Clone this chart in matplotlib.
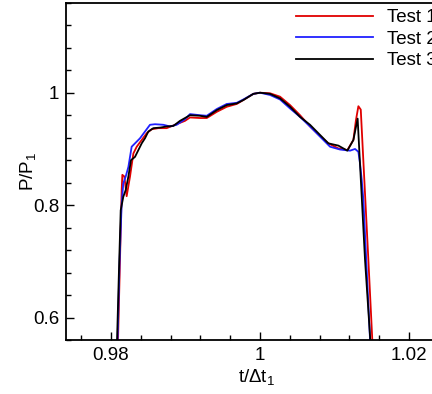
import matplotlib

matplotlib.use("Agg")
import matplotlib.pyplot as plt
from matplotlib.ticker import MultipleLocator, FixedLocator

plt.rcParams["font.family"] = ["Liberation Sans", "DejaVu Sans"]
plt.rcParams["mathtext.fontset"] = "custom"
plt.rcParams["mathtext.rm"] = "Liberation Sans"
plt.rcParams["mathtext.default"] = "regular"

# Test 1 (red)
t1 = [0.98094, 0.98120, 0.98143, 0.98152, 0.98179, 0.98210, 0.98255, 0.98300,
      0.98345, 0.98412, 0.98479, 0.98546, 0.98635, 0.98747, 0.98859, 0.98993,
      0.99060, 0.99195, 0.99285, 0.99419, 0.99553, 0.99687, 0.99776, 0.99911,
      1.00000, 1.00134, 1.00268, 1.00403, 1.00537, 1.00671, 1.00805, 1.00917,
      1.01051, 1.01172, 1.01253, 1.01287, 1.01320, 1.01352, 1.01454, 1.01507]
p1 = [0.560, 0.700, 0.827, 0.854, 0.851, 0.816, 0.851, 0.892,
      0.904, 0.916, 0.928, 0.935, 0.937, 0.937, 0.943, 0.950,
      0.956, 0.955, 0.955, 0.966, 0.975, 0.980, 0.987, 0.998,
      1.000, 0.999, 0.993, 0.978, 0.960, 0.940, 0.923, 0.910,
      0.901, 0.898, 0.916, 0.951, 0.976, 0.970, 0.703, 0.560]

# Test 2 (blue)
t2 = [0.98088, 0.98115, 0.98143, 0.98165, 0.98197, 0.98233, 0.98277, 0.98322,
      0.98389, 0.98456, 0.98523, 0.98591, 0.98702, 0.98792, 0.98881, 0.98993,
      0.99060, 0.99195, 0.99285, 0.99419, 0.99553, 0.99687, 0.99776, 0.99911,
      1.00000, 1.00134, 1.00268, 1.00403, 1.00537, 1.00671, 1.00805, 1.00940,
      1.01074, 1.01208, 1.01275, 1.01320, 1.01342, 1.01365, 1.01387, 1.01477]
p2 = [0.560, 0.700, 0.803, 0.839, 0.851, 0.868, 0.904, 0.910,
      0.919, 0.931, 0.943, 0.944, 0.943, 0.940, 0.943, 0.953,
      0.962, 0.960, 0.959, 0.971, 0.980, 0.982, 0.988, 0.998,
      1.000, 0.996, 0.988, 0.972, 0.957, 0.940, 0.922, 0.904,
      0.899, 0.897, 0.900, 0.895, 0.874, 0.845, 0.809, 0.560]

# Test 3 (black)
t3 = [0.98081, 0.98110, 0.98130, 0.98165, 0.98197, 0.98233, 0.98268, 0.98322,
      0.98367, 0.98412, 0.98456, 0.98501, 0.98568, 0.98658, 0.98747, 0.98837,
      0.98926, 0.99060, 0.99195, 0.99285, 0.99419, 0.99553, 0.99687, 0.99776,
      0.99911, 1.00000, 1.00134, 1.00268, 1.00403, 1.00537, 1.00671, 1.00805,
      1.00917, 1.01051, 1.01172, 1.01253, 1.01310, 1.01409, 1.01480]
p3 = [0.560, 0.700, 0.791, 0.815, 0.827, 0.851, 0.880, 0.886,
      0.898, 0.910, 0.919, 0.931, 0.937, 0.938, 0.940, 0.941,
      0.950, 0.960, 0.959, 0.957, 0.969, 0.978, 0.981, 0.987,
      0.998, 1.000, 0.998, 0.990, 0.975, 0.957, 0.943, 0.925,
      0.910, 0.906, 0.897, 0.916, 0.954, 0.703, 0.560]

fig = plt.figure(figsize=(4.32, 3.94), dpi=100)
ax = fig.add_axes([0.1535, 0.1365, 0.8796, 0.8566])

ax.plot(t1, p1, color="#e00000", lw=1.3, label="Test 1")
ax.plot(t2, p2, color="#2020ff", lw=1.3, label="Test 2")
ax.plot(t3, p3, color="black", lw=1.3, label="Test 3")

ax.set_xlim(0.974, 1.025)
ax.set_ylim(0.56, 1.16)

ax.xaxis.set_major_locator(FixedLocator([0.98, 1.0, 1.02]))
ax.xaxis.set_minor_locator(MultipleLocator(0.004))
ax.yaxis.set_major_locator(FixedLocator([0.6, 0.8, 1.0]))
ax.yaxis.set_minor_locator(MultipleLocator(0.04))
ax.set_xticklabels(["0.98", "1", "1.02"])
ax.set_yticklabels(["0.6", "0.8", "1"])
ax.tick_params(which="both", direction="in", top=False, right=False,
               labelsize=13.5, width=1.0)
ax.tick_params(which="major", length=6, pad=5)
ax.tick_params(which="minor", length=3.5)
for s in ax.spines.values():
    s.set_linewidth(1.3)

ax.set_xlabel("t/Δt$_1$", fontsize=13.5, labelpad=2)
ax.set_ylabel("P/P$_1$", fontsize=13.5)
ax.yaxis.set_label_coords(-0.075, 0.5)

ax.legend(loc="upper left", bbox_to_anchor=(0.685, 0.977),
          bbox_transform=fig.transFigure, frameon=False, fontsize=13.5,
          handlelength=4.1, handletextpad=0.75, labelspacing=0.24,
          borderpad=0, borderaxespad=0)

fig.savefig("out.png", dpi=100)
